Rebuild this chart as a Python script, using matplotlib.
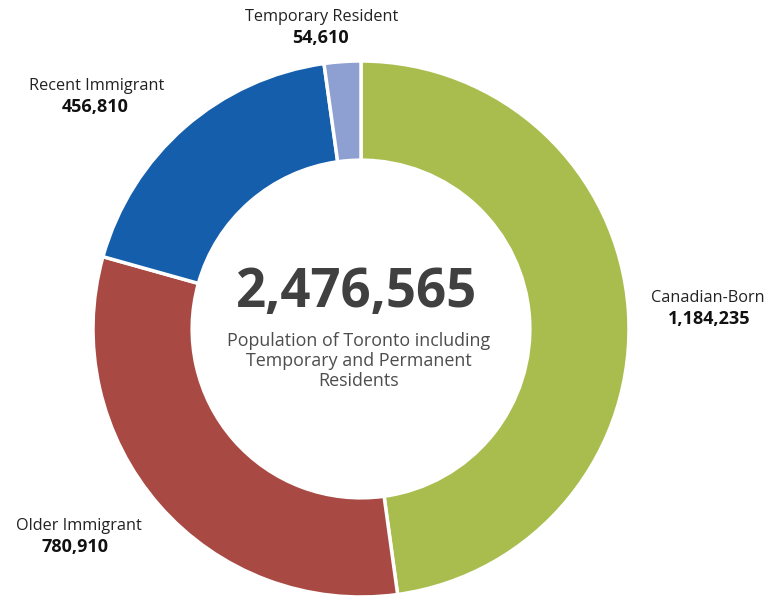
import matplotlib
matplotlib.use("Agg")
import matplotlib.pyplot as plt

categories = ["Canadian-Born", "Older Immigrant", "Recent Immigrant", "Temporary Resident"]
values = [1184235, 780910, 456810, 54610]
colors = ["#A9BD4F", "#A84A43", "#155EAB", "#8E9FD1"]
total_label = "2,476,565"
subtitle = "Population of Toronto including\nTemporary and Permanent\nResidents"

plt.rcParams['font.family'] = ['Open Sans', 'DejaVu Sans']

W, H = 771, 596
fig = plt.figure(figsize=(W / 100, H / 100), dpi=100)
cx, cy, r = 361, 329, 268
ax = fig.add_axes([(cx - r) / W, (H - cy - r) / H, 2 * r / W, 2 * r / H])
ax.pie(values, colors=colors, startangle=90, counterclock=False, radius=1,
       wedgeprops=dict(width=0.37, edgecolor="white", linewidth=2.5))
ax.set_xlim(-1, 1)
ax.set_ylim(-1, 1)
ax.set_aspect("equal")
ax.axis("off")

def px(x, y):
    return x / W, 1 - y / H

label_pos = {
    "Canadian-Born": (708, 298, 709),
    "Older Immigrant": (79, 526, 75),
    "Recent Immigrant": (97, 86, 95),
    "Temporary Resident": (322, 17, 320),
}
for cat, val in zip(categories, values):
    x, y, vx = label_pos[cat]
    fig.text(*px(x, y), cat, ha="center", va="center", fontsize=11.7, color="#222222")
    fig.text(*px(vx, y + 21), f"{val:,}", ha="center", va="center", fontsize=13,
             fontweight="bold", color="#111111")

fig.text(*px(cx - 4, 293), total_label, ha="center", va="center", fontsize=38,
         fontweight="bold", color="#404040")
fig.text(*px(cx - 2, 361), subtitle, ha="center", va="center", fontsize=12.9,
         color="#4d4d4d", linespacing=1.12)

fig.savefig("out.png", dpi=100)
